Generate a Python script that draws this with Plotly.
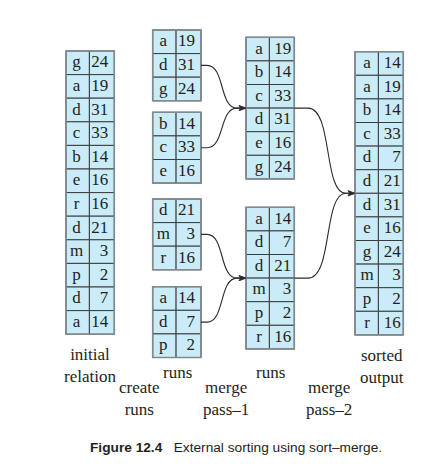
import plotly.graph_objects as go

# ---------------- data ----------------
initial_keys = ["g", "a", "d", "c", "b", "e", "r", "d", "m", "p", "d", "a"]
initial_vals = [24, 19, 31, 33, 14, 16, 16, 21, 3, 2, 7, 14]

run1_keys = ["a", "d", "g"]; run1_vals = [19, 31, 24]
run2_keys = ["b", "c", "e"]; run2_vals = [14, 33, 16]
run3_keys = ["d", "m", "r"]; run3_vals = [21, 3, 16]
run4_keys = ["a", "d", "p"]; run4_vals = [14, 7, 2]

pass1a_keys = ["a", "b", "c", "d", "e", "g"]; pass1a_vals = [19, 14, 33, 31, 16, 24]
pass1b_keys = ["a", "d", "d", "m", "p", "r"]; pass1b_vals = [14, 7, 21, 3, 2, 16]

output_keys = ["a", "a", "b", "c", "d", "d", "d", "e", "g", "m", "p", "r"]
output_vals = [14, 19, 14, 33, 7, 21, 31, 16, 24, 3, 2, 16]

col_labels = ["initial<br>relation", "runs", "runs", "sorted<br>output"]
step_labels = ["create<br>runs", "merge<br>pass–1", "merge<br>pass–2"]
caption_bold = "Figure 12.4"
caption_text = "External sorting using sort–merge."

# ---------------- layout geometry ----------------
W, H = 441, 464
PAGE_OFF = 8          # default page margin around the plot div
ROW_H = 23.6
KEY_W = 23.4
VAL_W = 24.9
FILL = "#c9ecf8"
INNER = "#3c3c3c"
OUTER = "#808a8f"
SERIF = "Liberation Serif"
TXT = "#231f20"

# tables: (keys, vals, x0, top, key text offset, value right padding)
tables = [
    (initial_keys, initial_vals, 66.0, 51.0, 10.6, 7.0),
    (run1_keys, run1_vals, 152.7, 30.0, 10.6, 7.0),
    (run2_keys, run2_vals, 152.7, 112.3, 10.6, 7.0),
    (run3_keys, run3_vals, 152.7, 199.0, 10.6, 7.0),
    (run4_keys, run4_vals, 152.7, 286.7, 10.6, 7.0),
    (pass1a_keys, pass1a_vals, 246.0, 37.3, 13.0, 4.0),
    (pass1b_keys, pass1b_vals, 246.0, 207.3, 13.0, 4.0),
    (output_keys, output_vals, 355.0, 51.7, 12.0, 3.5),
]

fig = go.Figure()
shapes = []

key_x, key_y, key_t = [], [], []
val_x, val_y, val_t = [], [], []

for keys, vals, x0, top, koff, vpad in tables:
    n = len(keys)
    for i, (k, v) in enumerate(zip(keys, vals)):
        y0 = top + i * ROW_H
        y1 = y0 + ROW_H
        shapes.append(dict(type="rect", x0=x0, x1=x0 + KEY_W, y0=y0, y1=y1,
                           fillcolor=FILL, line=dict(color=INNER, width=1), layer="below"))
        shapes.append(dict(type="rect", x0=x0 + KEY_W, x1=x0 + KEY_W + VAL_W, y0=y0, y1=y1,
                           fillcolor=FILL, line=dict(color=INNER, width=1), layer="below"))
        key_x.append(x0 + koff); key_y.append(y0 + ROW_H / 2 + 0.3); key_t.append(k)
        val_x.append(x0 + KEY_W + VAL_W - vpad + 1.0); val_y.append(y0 + ROW_H / 2 + 0.3); val_t.append(str(v))
    shapes.append(dict(type="rect", x0=x0, x1=x0 + KEY_W + VAL_W, y0=top, y1=top + n * ROW_H,
                       fillcolor="rgba(0,0,0,0)", line=dict(color=OUTER, width=1.6), layer="below"))

fig.add_trace(go.Scatter(x=key_x, y=key_y, text=key_t, mode="text", textposition="middle center",
                         textfont=dict(family=SERIF, size=17, color=TXT), hoverinfo="skip"))
fig.add_trace(go.Scatter(x=val_x, y=val_y, text=val_t, mode="text", textposition="middle left",
                         textfont=dict(family=SERIF, size=17, color=TXT), hoverinfo="skip"))


def row_mid(tbl, i):
    return tbl[3] + (i + 0.5) * ROW_H


def row_edge(tbl, i):
    return tbl[3] + i * ROW_H


def right(tbl):
    return tbl[2] + KEY_W + VAL_W


LINE = "#2b2b2b"


def connector(xa, ya, xb, yb, xs, xe, cx1, cx2):
    path = (f"M {xa},{ya} L {xs},{ya} C {cx1},{ya} {cx2},{yb} {xe},{yb} L {xb - 5.5},{yb}")
    shapes.append(dict(type="path", path=path, line=dict(color=LINE, width=1.1)))
    head = f"M {xb},{yb} L {xb - 7},{yb - 2.6} L {xb - 5.2},{yb} L {xb - 7},{yb + 2.6} Z"
    shapes.append(dict(type="path", path=head, fillcolor=LINE, line=dict(color=LINE, width=0.6)))


# merge pass 1
t = tables
connector(right(t[1]), row_mid(t[1], 1), t[5][2], row_edge(t[5], 3), 207, 237, 225, 219)
connector(right(t[2]), row_mid(t[2], 1), t[5][2], row_edge(t[5], 3), 207, 237, 225, 219)
connector(right(t[3]), row_mid(t[3], 1), t[6][2], row_edge(t[6], 3), 207, 237, 225, 219)
connector(right(t[4]), row_mid(t[4], 1), t[6][2], row_edge(t[6], 3), 207, 237, 225, 219)
# merge pass 2
connector(right(t[5]), row_edge(t[5], 3), t[7][2], row_edge(t[7], 6), 308, 346, 333, 323)
connector(right(t[6]), row_edge(t[6], 3), t[7][2], row_edge(t[7], 6), 308, 346, 333, 323)

annotations = []
col_pos = [(90.0, 365.0), (177.0, 372.0), (270.5, 372.0), (381.5, 366.0)]
for lbl, (x, y) in zip(col_labels, col_pos):
    annotations.append(dict(x=x, y=y, text=lbl, showarrow=False, xanchor="center", yanchor="middle",
                            font=dict(family=SERIF, size=17, color=TXT)))
step_pos = [(139.0, 398.0), (225.5, 398.0), (328.5, 398.0)]
for lbl, (x, y) in zip(step_labels, step_pos):
    annotations.append(dict(x=x, y=y, text=lbl, showarrow=False, xanchor="center", yanchor="middle",
                            font=dict(family=SERIF, size=17, color=TXT)))
annotations.append(dict(x=88, y=447.5, text=f"<b>{caption_bold}</b>&nbsp;&nbsp;&nbsp;{caption_text}",
                        showarrow=False, xanchor="left", yanchor="middle",
                        font=dict(family="Liberation Sans", size=13.7, color=TXT)))

fig.update_layout(
    width=W - PAGE_OFF, height=H - PAGE_OFF, margin=dict(l=0, r=0, t=0, b=0),
    paper_bgcolor="white", plot_bgcolor="white", showlegend=False,
    xaxis=dict(range=[PAGE_OFF, W], visible=False, fixedrange=True),
    yaxis=dict(range=[H, PAGE_OFF], visible=False, fixedrange=True),
    shapes=shapes, annotations=annotations,
)
fig.write_html("out.html", config={"displayModeBar": False})
